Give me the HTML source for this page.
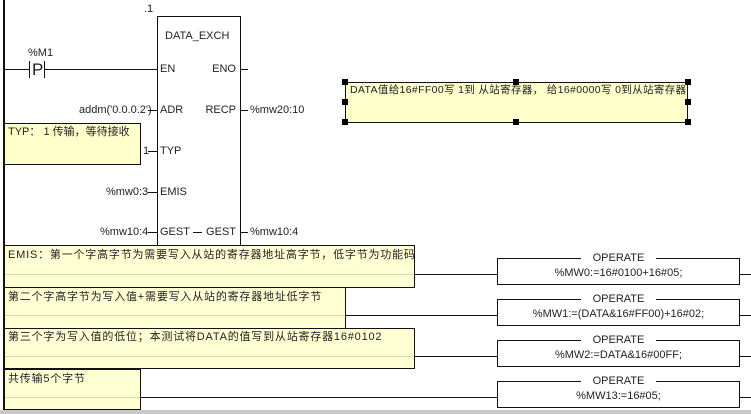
<!DOCTYPE html>
<html><head><meta charset="utf-8"><style>
body{margin:0;width:751px;height:414px;background:#fff;position:relative;overflow:hidden;font-family:"Liberation Sans","Noto Sans CJK SC",sans-serif;font-size:11px;color:#222}
.a{position:absolute;white-space:nowrap;line-height:12px}
.r{position:absolute;white-space:nowrap;line-height:12px;right:515px;text-align:right}
.h{position:absolute;background:#111;height:1px}
.v{position:absolute;background:#111;width:1px}
.c{position:absolute;background:#ffffcc;border:1px solid #111;box-sizing:border-box}
.op{position:absolute;border:1px solid #111;background:#fff;box-sizing:border-box;width:243px;height:27px;text-align:center}
.op .t{position:absolute;left:0;right:0;top:-7px;text-align:center}
.op .t span{background:#fff;padding:0 12px}
.op .b{position:absolute;left:0;right:0;top:8px;text-align:center}
.hd{position:absolute;width:6px;height:6px;background:#000}
.cj{letter-spacing:0.8px}
</style></head><body>
<div class="v" style="left:3px;top:0;height:411px;width:2px"></div>
<div style="position:absolute;left:0;top:410px;width:751px;height:4px;background:#c8c8c8"></div>
<div class="h" style="left:5px;top:69px;width:24px"></div>
<div class="v" style="left:29px;top:61px;height:17px"></div>
<div class="v" style="left:44px;top:61px;height:17px"></div>
<div class="a" style="left:32px;top:61px;font-size:17px;line-height:17px">P</div>
<div class="a" style="left:28px;top:47px">%M1</div>
<div class="h" style="left:44px;top:69px;width:113px"></div>
<div class="a" style="left:144px;top:3px">.1</div>
<div style="position:absolute;left:157px;top:16px;width:84px;height:230px;border:1px solid #111;box-sizing:border-box"></div>
<div class="a" style="left:165px;top:30px">DATA_EXCH</div>
<div class="a" style="left:160px;top:63px">EN</div>
<div class="r" style="top:63px">ENO</div>
<div class="h" style="left:240px;top:69px;width:8px"></div>
<div class="a" style="left:79px;top:104px">addm('0.0.0.2')</div>
<div class="h" style="left:148px;top:110px;width:9px"></div>
<div class="a" style="left:160px;top:104px">ADR</div>
<div class="r" style="top:104px">RECP</div>
<div class="h" style="left:240px;top:110px;width:8px"></div>
<div class="a" style="left:250px;top:104px">%mw20:10</div>
<div class="c" style="left:4px;top:123px;width:137px;height:42px"></div>
<div class="a" style="left:8px;top:126px">TYP： 1 传输，等待接收</div>
<div class="a" style="left:143px;top:145px">1</div>
<div class="h" style="left:148px;top:151px;width:9px"></div>
<div class="a" style="left:160px;top:145px">TYP</div>
<div class="a" style="left:106px;top:186px">%mw0:3</div>
<div class="h" style="left:148px;top:192px;width:9px"></div>
<div class="a" style="left:160px;top:186px">EMIS</div>
<div class="a" style="left:100px;top:226px">%mw10:4</div>
<div class="h" style="left:148px;top:232px;width:9px"></div>
<div class="a" style="left:160px;top:226px">GEST</div>
<div class="h" style="left:193px;top:232px;width:9px"></div>
<div class="r" style="top:226px">GEST</div>
<div class="h" style="left:240px;top:232px;width:8px"></div>
<div class="a" style="left:250px;top:226px">%mw10:4</div>
<div class="c" style="left:345px;top:82px;width:343px;height:41px"></div>
<div class="a" style="left:350px;top:84px;font-size:10.5px;letter-spacing:0.35px">DATA值给16#FF00写 1到 从站寄存器， 给16#0000写 0到从站寄存器</div>
<div class="hd" style="left:342px;top:79px"></div><div class="hd" style="left:513px;top:79px"></div><div class="hd" style="left:685px;top:79px"></div>
<div class="hd" style="left:342px;top:99px"></div><div class="hd" style="left:685px;top:99px"></div>
<div class="hd" style="left:342px;top:119px"></div><div class="hd" style="left:513px;top:119px"></div><div class="hd" style="left:685px;top:119px"></div>
<div class="h" style="left:5px;top:274px;width:746px"></div>
<div class="h" style="left:5px;top:315px;width:746px"></div>
<div class="h" style="left:5px;top:356px;width:746px"></div>
<div class="h" style="left:5px;top:397px;width:746px"></div>
<div class="c" style="left:4px;top:245px;width:411px;height:43px;background:rgba(255,255,204,.85)"></div>
<div class="a cj" style="left:8px;top:249px">EMIS：第一个字高字节为需要写入从站的寄存器地址高字节，低字节为功能码</div>
<div class="c" style="left:4px;top:287px;width:342px;height:42px;background:rgba(255,255,204,.85)"></div>
<div class="a cj" style="left:8px;top:291px">第二个字高字节为写入值+需要写入从站的寄存器地址低字节</div>
<div class="c" style="left:4px;top:328px;width:411px;height:41px;background:rgba(255,255,204,.85)"></div>
<div class="a cj" style="left:8px;top:331px">第三个字为写入值的低位；本测试将DATA的值写到从站寄存器16#0102</div>
<div class="c" style="left:4px;top:369px;width:137px;height:41px;background:rgba(255,255,204,.85)"></div>
<div class="a cj" style="left:8px;top:373px">共传输5个字节</div>
<div class="op" style="left:497px;top:258px"><div class="t"><span>OPERATE</span></div><div class="b">%MW0:=16#0100+16#05;</div></div>
<div class="op" style="left:497px;top:299px"><div class="t"><span>OPERATE</span></div><div class="b">%MW1:=(DATA&amp;16#FF00)+16#02;</div></div>
<div class="op" style="left:497px;top:340px"><div class="t"><span>OPERATE</span></div><div class="b">%MW2:=DATA&amp;16#00FF;</div></div>
<div class="op" style="left:497px;top:381px"><div class="t"><span>OPERATE</span></div><div class="b">%MW13:=16#05;</div></div>
</body></html>
